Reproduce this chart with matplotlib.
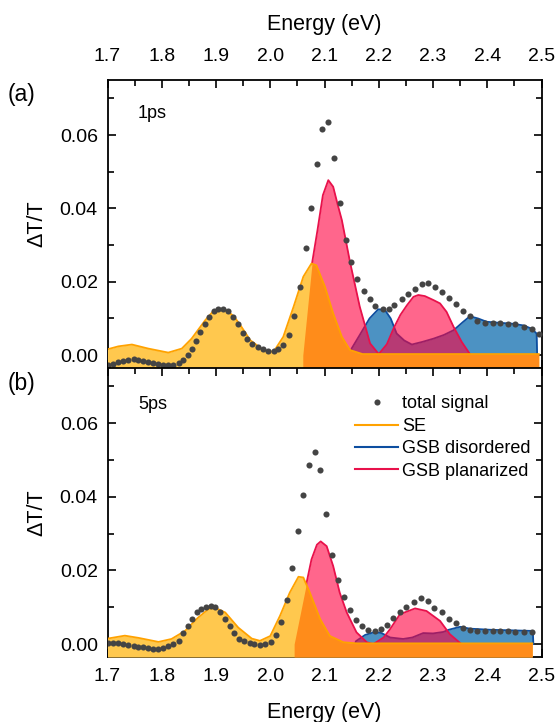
import numpy as np
import matplotlib
matplotlib.use("Agg")
import matplotlib.pyplot as plt
from matplotlib.lines import Line2D
from matplotlib.ticker import MultipleLocator, FormatStrFormatter

plt.rcParams['font.family'] = ['Liberation Sans', 'DejaVu Sans']

# ---------------- data: panel (a) 1 ps ----------------
tot1_E = [1.701, 1.711, 1.720, 1.729, 1.738, 1.748, 1.757, 1.766, 1.775, 1.784,
          1.794, 1.803, 1.812, 1.821, 1.831, 1.840, 1.848, 1.855, 1.863, 1.871,
          1.880, 1.888, 1.897, 1.904, 1.913, 1.923, 1.932, 1.941, 1.950, 1.958,
          1.967,
          1.978, 1.987, 1.996, 2.006, 2.015, 2.024, 2.035, 2.044, 2.055, 2.065,
          2.075, 2.086, 2.095, 2.106, 2.117, 2.128, 2.139, 2.149, 2.160, 2.172,
          2.183, 2.194, 2.207, 2.218, 2.229,
          2.242, 2.254, 2.267, 2.279, 2.291, 2.304, 2.317, 2.330, 2.342, 2.355,
          2.368, 2.382, 2.396, 2.410, 2.424, 2.438, 2.452, 2.467, 2.482, 2.496]
tot1_y = [-0.0027, -0.0023, -0.0019, -0.0015, -0.0012, -0.0010, -0.0012, -0.0015, -0.0018, -0.0021,
          -0.0025, -0.0027, -0.0028, -0.0027, -0.0021, -0.0012, 0.0000, 0.0016, 0.0039, 0.0064,
          0.0086, 0.0105, 0.0120, 0.0127, 0.0127, 0.0120, 0.0105, 0.0085, 0.0061, 0.0043,
          0.0030,
          0.0021, 0.0016, 0.0012, 0.0012, 0.0017, 0.0027, 0.0056, 0.0107, 0.0185, 0.0292,
          0.0400, 0.0521, 0.0616, 0.0635, 0.0537, 0.0415, 0.0315, 0.0254, 0.0208, 0.0175,
          0.0152, 0.0135, 0.0125, 0.0125, 0.0137,
          0.0152, 0.0166, 0.0180, 0.0195, 0.0198, 0.0186, 0.0172, 0.0155, 0.0139, 0.0120,
          0.0106, 0.0094, 0.0088, 0.0088, 0.0088, 0.0086, 0.0084, 0.0077, 0.0070, 0.0057]

se1_E = [1.700, 1.720, 1.745, 1.775, 1.812, 1.837, 1.855, 1.880, 1.895, 1.907, 1.920, 1.934,
         1.947, 1.963, 1.987, 2.006, 2.024, 2.043, 2.061, 2.076, 2.085, 2.101, 2.116,
         2.132, 2.147, 2.170, 2.495]
se1_y = [0.0016, 0.0024, 0.0029, 0.0018, 0.0007, 0.0018, 0.0045, 0.0095, 0.0120, 0.0127, 0.0122, 0.0104,
         0.0077, 0.0041, 0.0014, 0.0009, 0.0050, 0.0132, 0.0214, 0.0250, 0.0245, 0.0186, 0.0114,
         0.0050, 0.0014, 0.0003, 0.0003]

gd1_E = [2.148, 2.150, 2.165, 2.183, 2.199, 2.211, 2.222, 2.233, 2.247, 2.261, 2.280, 2.301,
         2.320, 2.338, 2.355, 2.368, 2.383, 2.399, 2.424, 2.445, 2.467, 2.482, 2.491, 2.492]
gd1_y = [0.0, 0.0018, 0.0055, 0.0100, 0.0125, 0.0124, 0.0100, 0.0059, 0.0040, 0.0029, 0.0036, 0.0045,
         0.0055, 0.0068, 0.0090, 0.0106, 0.0100, 0.0091, 0.0088, 0.0086, 0.0081, 0.0072, 0.0059, 0.0]

pl1_E = [2.060, 2.077, 2.087, 2.097, 2.107, 2.116, 2.124, 2.132, 2.147, 2.165, 2.184, 2.200,
         2.215, 2.228, 2.240, 2.252, 2.264, 2.273, 2.285, 2.301, 2.313, 2.325, 2.338, 2.353, 2.368]
pl1_y = [0.0, 0.0250, 0.0340, 0.0436, 0.0477, 0.0459, 0.0412, 0.0368, 0.0254, 0.0132, 0.0032, 0.0003,
         0.0030, 0.0075, 0.0110, 0.0136, 0.0159, 0.0164, 0.0161, 0.0150, 0.0141, 0.0118, 0.0077, 0.0036, 0.0003]

# ---------------- data: panel (b) 5 ps ----------------
tot5_E = [1.701, 1.711, 1.720, 1.729, 1.738, 1.748, 1.757, 1.766, 1.775, 1.784,
          1.794, 1.803, 1.812, 1.821, 1.831, 1.840, 1.849, 1.856, 1.865, 1.873,
          1.881, 1.890, 1.899, 1.908, 1.917, 1.926, 1.934, 1.943, 1.952, 1.962,
          1.970,
          1.981, 1.990, 2.001, 2.011, 2.020, 2.030, 2.040, 2.051, 2.060, 2.071,
          2.082, 2.092, 2.103, 2.114, 2.125, 2.136, 2.147, 2.158, 2.170, 2.181,
          2.193, 2.204, 2.216, 2.227, 2.239, 2.251, 2.265, 2.277, 2.290, 2.302,
          2.316, 2.330, 2.343, 2.355, 2.368, 2.382, 2.396, 2.410, 2.424, 2.438,
          2.452, 2.467, 2.482]
tot5_y = [0.0003, 0.0002, 0.0002, 0.0000, -0.0003, -0.0005, -0.0007, -0.0009, -0.0011, -0.0012,
          -0.0012, -0.0010, -0.0006, -0.0001, 0.0009, 0.0029, 0.0050, 0.0069, 0.0087, 0.0096,
          0.0102, 0.0104, 0.0102, 0.0088, 0.0068, 0.0048, 0.0030, 0.0015, 0.0009, 0.0003,
          0.0000,
          -0.0002, 0.0000, 0.0006, 0.0024, 0.0061, 0.0120, 0.0207, 0.0308, 0.0405, 0.0486,
          0.0522, 0.0473, 0.0353, 0.0243, 0.0173, 0.0128, 0.0092, 0.0066, 0.0050, 0.0039,
          0.0036, 0.0040, 0.0051, 0.0070, 0.0087, 0.0102, 0.0115, 0.0124, 0.0117, 0.0099,
          0.0086, 0.0069, 0.0057, 0.0045, 0.0039, 0.0035, 0.0035, 0.0036, 0.0036, 0.0035,
          0.0033, 0.0032, 0.0032]

se5_E = [1.700, 1.732, 1.757, 1.794, 1.818, 1.843, 1.867, 1.886, 1.898, 1.917, 1.941, 1.966,
         1.981, 2.000, 2.018, 2.036, 2.052, 2.061, 2.073, 2.092, 2.110, 2.135, 2.160, 2.483]
se5_y = [0.0015, 0.0023, 0.0017, 0.0006, 0.0014, 0.0036, 0.0072, 0.0095, 0.0099, 0.0086, 0.0045, 0.0015,
         0.0009, 0.0022, 0.0077, 0.0140, 0.0183, 0.0181, 0.0140, 0.0068, 0.0022, 0.0005, 0.0002, 0.0002]

gd5_E = [2.156, 2.158, 2.175, 2.193, 2.205, 2.221, 2.245, 2.262, 2.282, 2.300, 2.319, 2.329,
         2.350, 2.368, 2.405, 2.479, 2.484, 2.485]
gd5_y = [0.0, 0.0008, 0.0025, 0.0033, 0.0030, 0.0018, 0.0014, 0.0018, 0.0030, 0.0029, 0.0033, 0.0039,
         0.0047, 0.0042, 0.0039, 0.0036, 0.0036, 0.0]

pl5_E = [2.044, 2.067, 2.076, 2.086, 2.093, 2.104, 2.116, 2.128, 2.141, 2.159, 2.178, 2.190,
         2.209, 2.221, 2.239, 2.267, 2.288, 2.313, 2.331, 2.350]
pl5_y = [0.0, 0.0167, 0.0230, 0.0270, 0.0279, 0.0266, 0.0212, 0.0140, 0.0086, 0.0032, 0.0005, 0.0,
         0.0018, 0.0041, 0.0081, 0.0097, 0.0090, 0.0063, 0.0027, 0.0003]

panel_labels = ['(a)', '(b)']
delays = ['1ps', '5ps']
legend_labels = ['total signal', 'SE', 'GSB disordered', 'GSB planarized']

# ---------------- style ----------------
C_LIGHT = '#FFC84E'
C_DARK = '#FF8C1A'
C_SE = '#FFA200'
C_BLUE_F = '#1F77B4'
C_BLUE_L = '#0D4EA0'
C_RED_F = '#FF0040'
C_RED_L = '#E8114B'
C_DOT = '#444444'
YLIM = (-0.0035, 0.075)
XLIM = (1.7, 2.5)
TICK_FS = 14
LAB_FS = 15.5

fig = plt.figure(figsize=(5.60, 7.22), dpi=100)
L, W = 107.5 / 560, 434 / 560
ax1 = fig.add_axes([L, 1 - 368 / 722, W, 288 / 722])
ax2 = fig.add_axes([L, 1 - 657 / 722, W, 289 / 722])


def draw_panel(ax, tE, ty, sE, sy, gE, gy, pE, py):
    ax.set_xlim(*XLIM)
    ax.set_ylim(*YLIM)
    ymin = ax.get_ylim()[0]
    ax.fill_between(gE, 0, gy, color=C_BLUE_F, alpha=0.8, lw=0, zorder=2)
    ax.plot(gE, gy, color=C_BLUE_L, lw=1.3, zorder=2.05)
    ax.fill_between(pE, 0, py, color=C_RED_F, alpha=0.6, lw=0, zorder=2.1)
    ax.plot(pE, py, color=C_RED_L, lw=1.3, zorder=2.15)
    ax.fill_between(sE, ymin, sy, color=C_LIGHT, lw=0, zorder=3)
    ef = np.linspace(pE[0], sE[-1], 1200)
    sf = np.interp(ef, sE, sy)
    pf = np.interp(ef, pE, py, right=0.0)
    peak = pE[int(np.argmax(py))]
    top = np.where(ef < peak, np.minimum(sf, pf), sf)
    ax.fill_between(ef, ymin, top, color=C_DARK, lw=0, zorder=3.1)
    ax.plot(sE, sy, color=C_SE, lw=1.3, zorder=4)
    ax.plot(tE, ty, 'o', color=C_DOT, ms=4.4, mec='none', zorder=5)

    ax.xaxis.set_major_locator(MultipleLocator(0.1))
    ax.xaxis.set_minor_locator(MultipleLocator(0.05))
    ax.yaxis.set_major_locator(MultipleLocator(0.02))
    ax.yaxis.set_minor_locator(MultipleLocator(0.01))
    ax.xaxis.set_major_formatter(FormatStrFormatter('%.1f'))
    ax.yaxis.set_major_formatter(FormatStrFormatter('%.2f'))
    ax.tick_params(which='both', direction='in', top=True, right=True, width=1.2)
    ax.tick_params(which='major', length=6, labelsize=TICK_FS)
    ax.tick_params(which='minor', length=4)
    ax.tick_params(axis='y', which='major', pad=7)
    for s in ax.spines.values():
        s.set_linewidth(1.3)
    ax.set_ylabel('ΔT/T', fontsize=LAB_FS, labelpad=9)


draw_panel(ax1, tot1_E, tot1_y, se1_E, se1_y, gd1_E, gd1_y, pl1_E, pl1_y)
draw_panel(ax2, tot5_E, tot5_y, se5_E, se5_y, gd5_E, gd5_y, pl5_E, pl5_y)

ax1.tick_params(labeltop=True, labelbottom=False)
ax1.tick_params(axis='x', which='major', pad=11)
ax2.tick_params(axis='x', which='major', pad=8)
ax1.xaxis.set_label_position('top')
ax1.set_xlabel('Energy (eV)', fontsize=LAB_FS, labelpad=13)
ax2.set_xlabel('Energy (eV)', fontsize=LAB_FS, labelpad=12)

ax1.text(0.07, 0.885, delays[0], transform=ax1.transAxes, fontsize=13, va='center')
ax2.text(0.07, 0.872, delays[1], transform=ax2.transAxes, fontsize=13, va='center')
fig.text(8 / 560, 1 - 95 / 722, panel_labels[0], fontsize=16.5, va='center')
fig.text(8 / 560, 1 - 383 / 722, panel_labels[1], fontsize=16.5, va='center')

handles = [Line2D([], [], ls='none', marker='o', color=C_DOT, ms=4.4, mec='none'),
           Line2D([], [], color=C_SE, lw=1.5),
           Line2D([], [], color=C_BLUE_L, lw=1.5),
           Line2D([], [], color=C_RED_L, lw=1.5)]
ax2.legend(handles, legend_labels, loc='upper left', bbox_to_anchor=(0.570, 0.905),
           frameon=False, fontsize=13, handlelength=2.4, handletextpad=0.2,
           labelspacing=0.3, borderpad=0, borderaxespad=0)

fig.savefig('out.png', dpi=100)
